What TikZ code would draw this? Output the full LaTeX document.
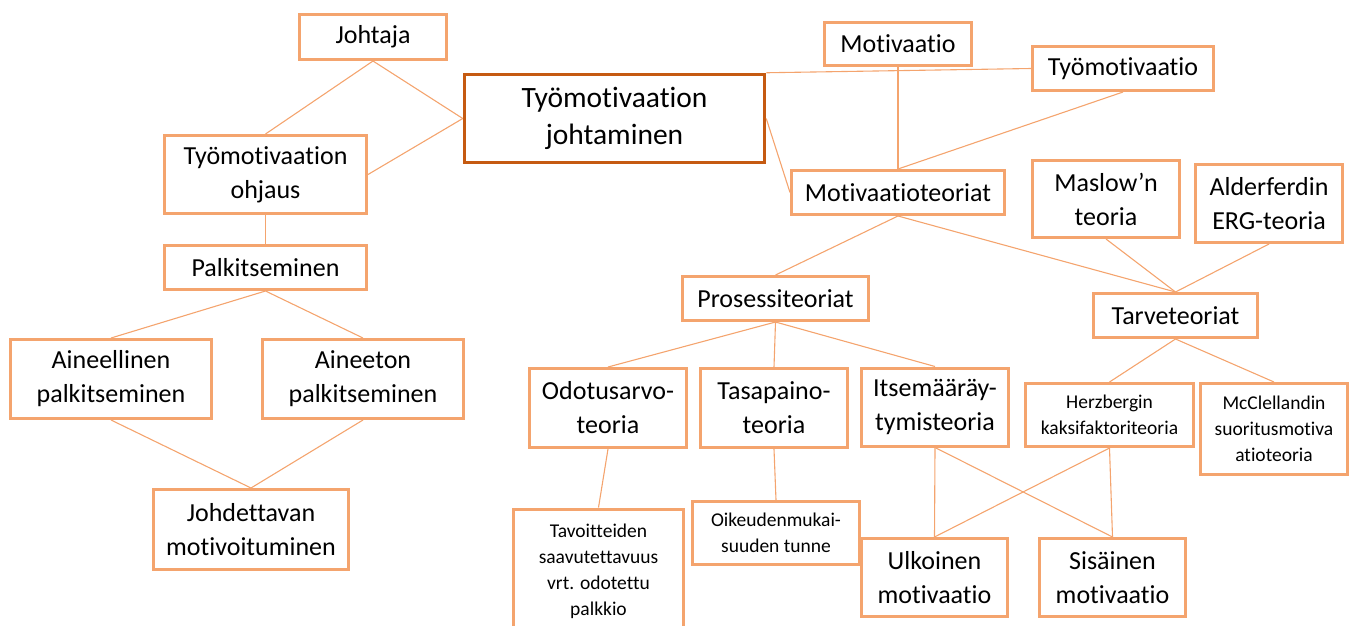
\documentclass[tikz,border=0pt]{standalone}
\usepackage{fontspec}
\setmainfont{Carlito}[Ligatures={NoCommon}]
\definecolor{lor}{HTML}{F4A46E}
\definecolor{dor}{HTML}{C55A11}
\tikzset{
  x=1pt, y=-1pt,
  box/.style={draw=lor, line width=3pt, inner sep=0pt, align=center, text=black,
    font=\fontsize{26}{34}\selectfont},
  sbox/.style={box, font=\fontsize{19.5}{26}\selectfont},
  mainbox/.style={draw=dor, line width=3.5pt, inner sep=0pt, align=center,
    font=\fontsize{29.5}{37}\selectfont, minimum width=300, minimum height=88},
  conn/.style={draw=lor, line width=1.1pt},
}
\begin{document}
\begin{tikzpicture}
\useasboundingbox (0,0) rectangle (1357,625);
\begin{scope}
\clip (0,0) rectangle (1357,625);
% left part
\node[box, minimum width=147, minimum height=45] (johtaja) at (373,37) {Johtaja};
\node[box, minimum width=202, minimum height=78] (ohjaus) at (265.5,174.5) {Työmotivaation\\ohjaus};
\node[box, minimum width=202, minimum height=44] (palk) at (265.5,267.5) {Palkitseminen};
\node[box, minimum width=201, minimum height=79] (ainell) at (111,379) {Aineellinen\\palkitseminen};
\node[box, minimum width=201, minimum height=79] (aineet) at (363,379) {Aineeton\\palkitseminen};
\node[box, minimum width=195, minimum height=80] (johd) at (251,529.5) {Johdettavan\\motivoituminen};
% centre
\node[mainbox] (main) at (614.5,118.5) {Työmotivaation\\johtaminen};
% right part
\node[box, minimum width=147, minimum height=43] (motiv) at (898,44) {Motivaatio};
\node[box, minimum width=181, minimum height=44] (tm) at (1123,68.5) {Työmotivaatio};
\node[box, minimum width=213, minimum height=44] (mt) at (898,192.5) {Motivaatioteoriat};
\node[box, minimum width=147, minimum height=77] (maslow) at (1106,199) {Maslow’n\\teoria};
\node[box, minimum width=147, minimum height=78] (alder) at (1269,203.5) {Alderferdin\\ERG-teoria};
\node[box, minimum width=164, minimum height=44] (tarve) at (1175.5,315.5) {Tarveteoriat};
\node[box, minimum width=186, minimum height=44] (proses) at (775.5,298.5) {Prosessiteoriat};
\node[box, minimum width=157, minimum height=79] (odot) at (608,408) {Odotusarvo-\\teoria};
\node[box, minimum width=147, minimum height=79] (tasap) at (774,408) {Tasapaino-\\teoria};
\node[box, minimum width=147, minimum height=78] (itse) at (935,407) {Itsemääräy-\\tymisteoria};
\node[sbox, minimum width=170, minimum height=124] (tavo) at (598.5,571) {Tavoitteiden\\saavutettavuus\\vrt. odotettu\\palkkio};
\node[sbox, minimum width=167, minimum height=63] (oike) at (776,533) {Oikeudenmukai-\\suuden tunne};
\node[box, minimum width=146, minimum height=78] (ulk) at (934.5,577.5) {Ulkoinen\\motivaatio};
\node[box, minimum width=146, minimum height=78] (sis) at (1112.5,577.5) {Sisäinen\\motivaatio};
\node[sbox, minimum width=168, minimum height=63] (herz) at (1109.5,415) {Herzbergin\\kaksifaktoriteoria};
\node[sbox, minimum width=147, minimum height=91] (mccl) at (1274,429) {McClellandin\\suoritusmotiva\\atioteoria};
% connectors
\draw[conn] (johtaja.south) -- (ohjaus.north);
\draw[conn] (johtaja.south) -- (main.west);
\draw[conn] (ohjaus.east) -- (main.west);
\draw[conn] (ohjaus.south) -- (palk.north);
\draw[conn] (palk.south) -- (ainell.north);
\draw[conn] (palk.south) -- (aineet.north);
\draw[conn] (ainell.south) -- (johd.north);
\draw[conn] (aineet.south) -- (johd.north);
\draw[conn] (main.north east) -- (tm.west);
\draw[conn] (main.east) -- (mt.west);
\draw[conn] (motiv.south) -- (mt.north);
\draw[conn] (tm.south) -- (mt.north);
\draw[conn] (mt.south) -- (proses.north);
\draw[conn] (mt.south) -- (tarve.north);
\draw[conn] (maslow.south) -- (tarve.north);
\draw[conn] (alder.south) -- (tarve.north);
\draw[conn] (proses.south) -- (odot.north);
\draw[conn] (proses.south) -- (tasap.north);
\draw[conn] (proses.south) -- (itse.north);
\draw[conn] (odot.south) -- (tavo.north);
\draw[conn] (tasap.south) -- (oike.north);
\draw[conn] (itse.south) -- (ulk.north);
\draw[conn] (itse.south) -- (sis.north);
\draw[conn] (herz.south) -- (ulk.north);
\draw[conn] (herz.south) -- (sis.north);
\draw[conn] (tarve.south) -- (herz.north);
\draw[conn] (tarve.south) -- (mccl.north);
\end{scope}
\end{tikzpicture}
\end{document}
